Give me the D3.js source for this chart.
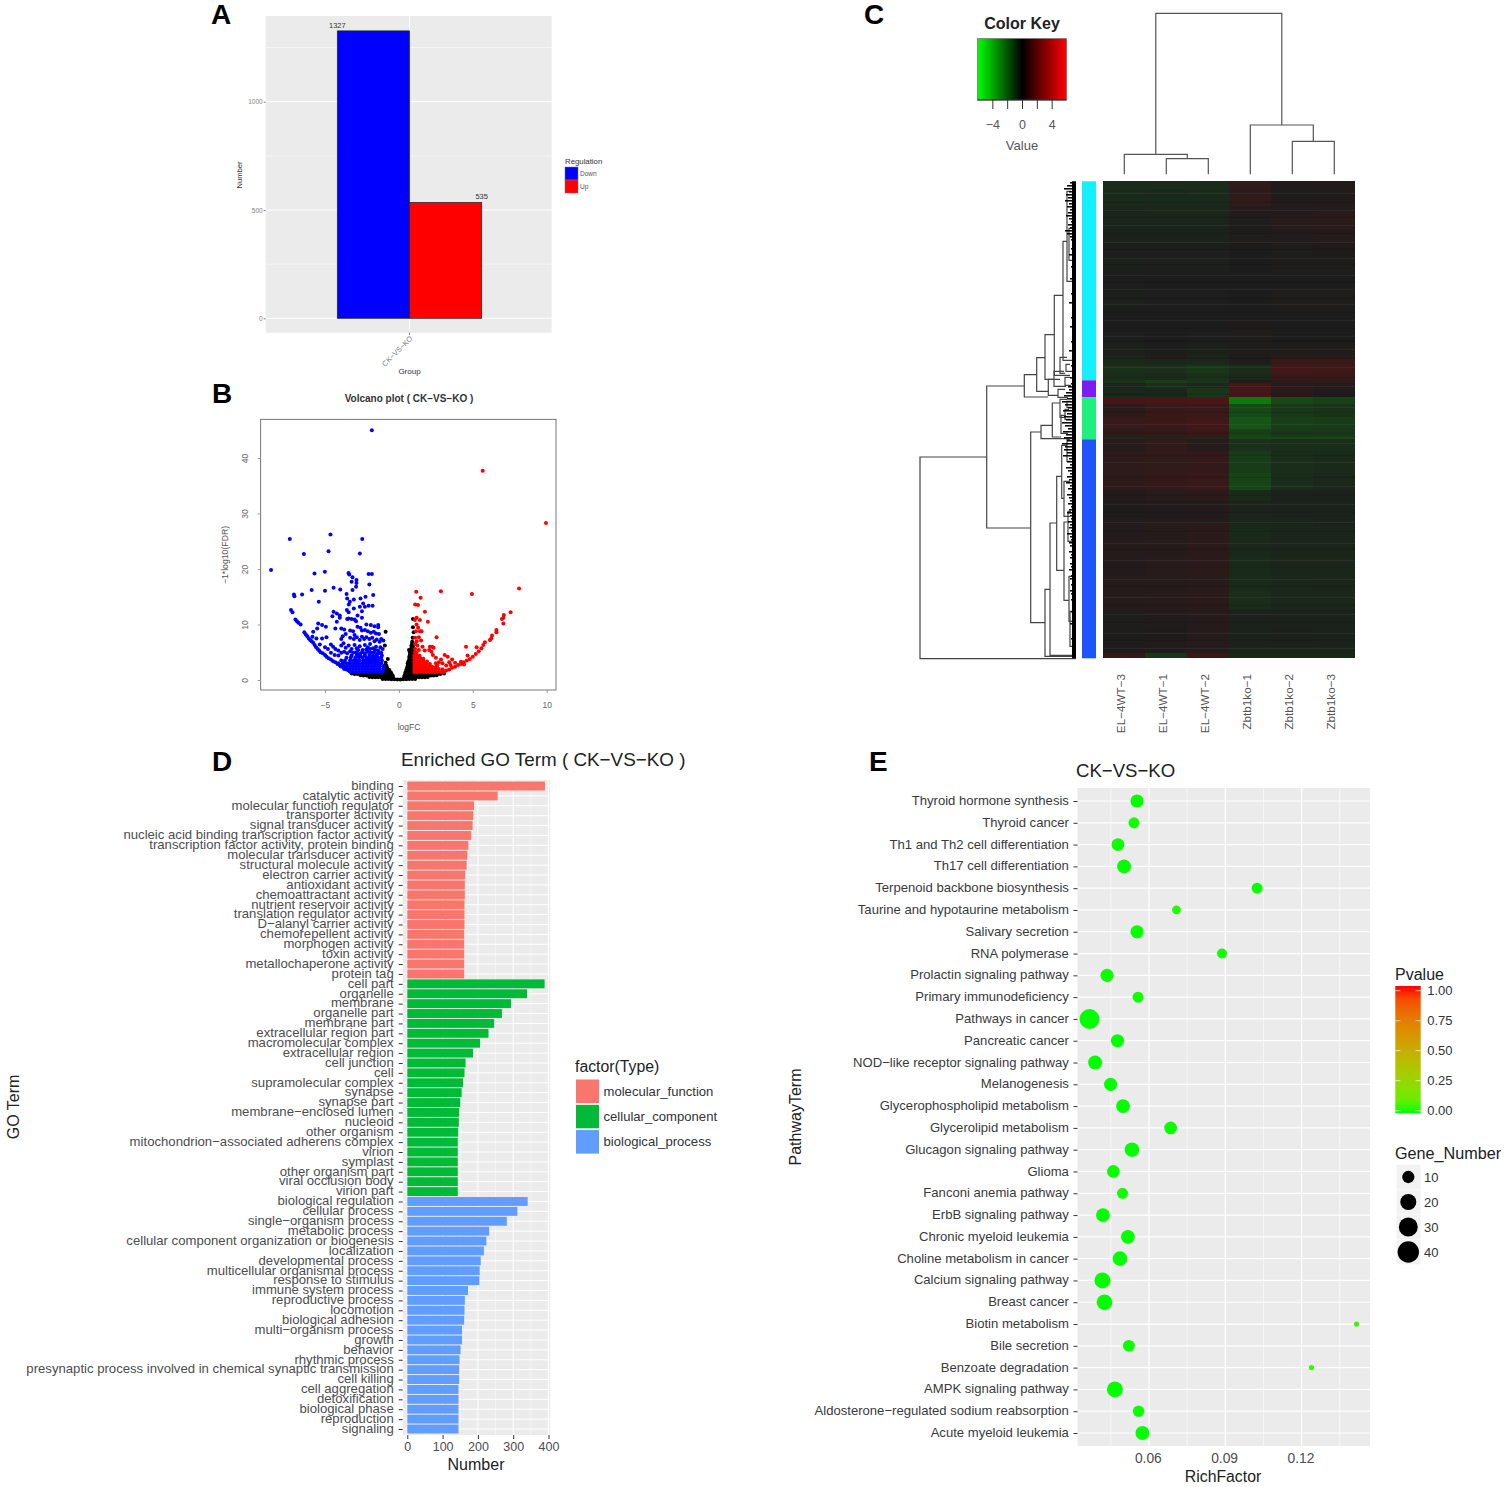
<!DOCTYPE html>
<html>
<head>
<meta charset="utf-8">
<title>CK-VS-KO figure</title>
<script src="https://cdn.jsdelivr.net/npm/d3@7"></script>
<style>
  body { margin: 0; background: #fff; }
  svg { display: block; font-family: "Liberation Sans", Arial, sans-serif; }
</style>
</head>
<body>
<script>
// panel A
const regGroups = ["Down", "Up"];
const regCounts = [1327, 535];

// panel B, [logFC, -log10(FDR)]
const blackPoints = [
  [-1.1,.2],[-.9,.2],[-.7,.2],[-.5,.15],[-.3,.15],[-.1,.1],[.1,.1],[.3,.15],[.5,.15],[.7,.2],[.9,.2],[1.1,.2],
  [-2,.55],[-1.8,.5],[-1.6,.5],[-1.4,.5],[-1.2,.5],[-1,.5],[-.8,.5],[-.6,.5],[-.4,.5],[.35,.5],[.55,.5],[.75,.5],[.95,.5],[1.15,.5],[1.35,.5],[1.55,.5],[1.75,.5],[1.95,.55],
  [-2.6,.85],[-2.4,.8],[-2.2,.8],[-2,.8],[-1.8,.8],[-1.6,.8],[-1.4,.8],[-1.2,.8],[-1,.8],[-.8,.8],[-.6,.8],[-.42,.8],[.38,.8],[.55,.8],[.75,.8],[.95,.8],[1.15,.8],[1.35,.8],[1.55,.8],[1.75,.8],[1.95,.8],[2.15,.8],[2.35,.8],[2.55,.85],
  [-3.2,1.15],[-3,1.1],[-2.8,1.1],[-2.6,1.1],[-2.4,1.1],[-2.2,1.1],[-2,1.1],[-1.8,1.1],[-1.6,1.1],[-1.4,1.1],[-1.2,1.1],[-1,1.1],[-.8,1.1],[-.6,1.1],[-.5,1.1],[.42,1.1],[.6,1.1],[.8,1.1],[1,1.1],[1.2,1.1],[1.4,1.1],[1.6,1.1],[1.8,1.1],[2,1.1],[2.2,1.1],[2.4,1.1],[2.6,1.1],[2.8,1.1],[3.05,1.15],
  [-1,1.4],[-.85,1.4],[-.7,1.4],[-.55,1.4],[-.98,1.8],[-.8,1.8],[-.65,1.8],[-.95,2.2],[-.8,2.2],[-.95,2.6],[-.85,2.6],[-.9,3.1],[-.75,3.8],
  [.45,1.4],[.6,1.4],[.8,1.4],[.98,1.4],[.5,1.8],[.7,1.8],[.85,1.8],[.98,1.8],[.55,2.2],[.7,2.2],[.85,2.2],[.98,2.2],[.6,2.6],[.75,2.6],[.9,2.6],[.98,2.6],[.6,3],[.75,3],[.9,3],[.98,3],
  [.65,3.4],[.8,3.4],[.95,3.4],[.7,3.8],[.85,3.8],[.95,3.8],[.7,4.2],[.85,4.2],[.95,4.2],[.75,4.6],[.9,4.6],[.75,5],[.92,5],[.68,5.4],[.8,5.4],[.95,5.4],[.85,5.8],[.95,5.8],[.85,6.2],[.95,6.2],[.9,6.6],
  [-.9,8.7],[-.95,6.2],[.95,11],[1,8.6],[.95,9.5],[.93,7.6],[.9,6.9]
];
const bluePoints = [
  // outliers
  [-1.83,45],[-8.65,19.8],[-7.38,25.4],[-4.63,26.2],[-2.48,25.4],[-6.43,22.7],[-4.76,23.2],[-2.64,22.8],[-5.71,19.2],[-5.01,19.5],
  [-3.41,19.3],[-3.36,19],[-3.14,18.5],[-2.87,18],[-3.2,17.7],[-2.87,17.5],[-2.9,16.8],[-2.05,19.1],[-1.83,19.1],[-2,17.2],
  [-5.9,16.2],[-5,16.1],[-4.42,16.6],[-3.97,16.3],[-7.1,15.4],[-7.07,15.1],[-6.55,15.4],[-3.54,15.5],[-3.14,16.2],[-1.74,15.3],
  [-2.26,15],[-2.6,14.7],[-5.42,14.1],[-3.5,14.7],[-3.32,14.1],[-3.05,14.5],[-3.39,13.6],[-2.42,13.8],[-2.3,13.2],[-2.05,13.4],[-1.78,13.4],
  [-7.3,12.6],[-7.2,12.2],[-4.42,12.3],[-4.2,12],[-3.52,12.6],[-3.4,12.2],[-3.05,12.9],[-2.64,13.2],[-2.5,12.4],
  // scatter
  [-5.46,10.2],[-5.2,9.9],[-4.94,9.6],[-5.8,8.7],[-5.53,9.3],[-5.85,7.8],[-5.58,7.5],[-5.2,7.5],[-4.9,7.7],[-5.35,6.4],
  [-4.5,11.5],[-4.2,10.5],[-4,11.2],[-4,11.6],[-3.5,11],[-3.4,11.1],[-3.2,11],[-3,10.9],[-2.9,10.6],[-2.8,11.6],[-2.5,11.2],[-2.2,10],[-1.9,9.9],[-1.65,9.7],[-1.4,9.9],[-1.4,9.5],
  [-4.3,9.3],[-3.9,9.3],[-3.7,9.1],[-3.6,8.3],[-3.8,7.9],[-3.9,7.4],[-3.3,8.9],[-3.1,8.8],[-3,8.1],[-2.8,9.6],[-2.6,9.4],[-2.5,8.9],[-2.3,9],[-2.1,8.8],[-1.9,8.5],[-1.7,8.7],[-1.55,8.4],[-1.35,8.3],[-1.2,7.4],[-1.05,7.1],
  [-3.3,7.6],[-3.05,7.4],[-2.85,7.7],[-2.65,7.2],[-2.5,7.8],[-2.35,7.4],[-2.2,7.7],[-2,7.4],[-1.8,7.6],[-1.65,7],[-1.5,7.3],[-1.3,6.9],
  [-4.6,6.4],[-4.45,6],[-4.3,5.6],[-4.1,5.3],[-3.9,6.2],[-3.75,6.6],[-3.6,5.8],[-3.4,6.2],[-3.2,5.6],[-3,6.3],[-2.85,5.7],[-2.65,6.1],[-2.45,5.4],[-2.3,6.3],[-2.1,5.9],[-1.95,6.5],[-1.75,5.7],[-1.55,6],[-1.4,5.3],[-1.25,5.9],[-1.1,5.6],[-1.2,4.9],
  [-4.8,5.6],[-5,5.9],[-4.6,4.9],[-4.35,4.5],[-4.1,4.4],[-3.9,4.9],[-3.7,5.1],[-3.5,4.8],[-3.3,5.2],[-3.1,4.9],[-2.9,5],[-2.7,4.7],[-2.5,5],[-2.3,4.8],[-2.1,5.1],[-1.9,4.9],[-1.7,5],[-1.5,4.7],
  [-2.75,5.4],[-2.2,5.5],[-1.95,5.6],[-1.6,5.4],[-1.35,4.8],[-1.15,4.4],[-3.2,4.4],[-2.85,4.45],[-2.6,4.4],[-2.3,4.4],[-2,4.5],[-1.75,4.45],[-1.5,4.35],
  // left rim of the volcano
  [-7,10.9],[-6.9,10.6],[-6.8,10.3],[-6.65,10],[-6.4,8.6],[-6.3,8.2],[-6.2,7.9],[-6.1,7.5],[-6,7.2],[-5.9,7],[-5.8,6.7],[-5.7,6.3],[-5.6,5.9],[-5.5,5.6],[-5.4,5.3],[-5.3,5],[-5.15,4.8],[-5,4.5],[-4.9,4.2],[-4.75,3.9],[-4.6,3.7],[-4.45,3.4],[-4.3,3.2],[-4.15,2.9],[-4,2.7],[-3.85,2.4],[-3.7,2.2],[-3.55,1.9],[-3.4,1.7],
  // dense core
  [-3.3,1.5],[-3.1,1.5],[-2.9,1.5],[-2.7,1.5],[-2.5,1.5],[-2.3,1.5],[-2.1,1.5],[-1.9,1.5],[-1.7,1.5],[-1.5,1.5],[-1.3,1.5],[-1.1,1.5],
  [-3.7,2],[-3.5,2],[-3.3,2],[-3.1,2],[-2.9,2],[-2.7,2],[-2.5,2],[-2.3,2],[-2.1,2],[-1.9,2],[-1.7,2],[-1.5,2],[-1.3,2],[-1.05,2],
  [-3.95,2.5],[-3.7,2.5],[-3.5,2.5],[-3.3,2.5],[-3.1,2.5],[-2.9,2.5],[-2.7,2.5],[-2.5,2.5],[-2.3,2.5],[-2.1,2.5],[-1.9,2.5],[-1.7,2.5],[-1.5,2.5],[-1.3,2.5],[-1.05,2.5],
  [-4.1,3],[-3.8,3],[-3.6,3],[-3.4,3],[-3.2,3],[-3,3],[-2.8,3],[-2.6,3],[-2.4,3],[-2.2,3],[-2,3],[-1.8,3],[-1.6,3],[-1.4,3],[-1.2,3],
  [-3.9,3.5],[-3.65,3.5],[-3.3,3.55],[-3.05,3.5],[-2.85,3.5],[-2.65,3.45],[-2.4,3.5],[-2.2,3.5],[-2,3.5],[-1.8,3.5],[-1.6,3.5],[-1.4,3.5],[-1.15,3.5],
  [-3.55,4],[-3.25,4.05],[-2.95,4],[-2.7,4.05],[-2.45,4],[-2.2,4],[-2,4],[-1.8,4],[-1.6,4],[-1.4,4],[-1.2,4.05]
];
const redPoints = [
  // outliers
  [5.67,37.7],[9.95,28.3],[8.13,16.5],[2.84,16],[4.94,15.5],[1.17,15.9],[1.47,14.8],[1.1,13.6],[1.29,13.5],[1.76,12.3],[7.56,12.2],[7.1,11.7],[7.07,11.2],[6.97,11],[1.96,10.5],[7.07,10.2],
  [1.2,11.2],[1.08,10.8],[1.42,10.8],[1.2,10],[1.3,9.4],[1.15,8.8],[1.42,8.8],[1.53,8.8],[2.55,7.7],[6.6,9],[6.6,8.6],[6.3,8],[6.25,7.5],[6.16,7.2],[5.82,6.8],[5.71,6.3],[5.58,5.7],[4.54,6],[5.26,5.9],[4.65,4.4],
  // scatter
  [1.1,7.6],[1.2,7],[1.35,7.7],[1.5,7.1],[1.1,6.5],[1.25,6.2],[1.6,6],[1.1,5.6],[1.35,5.4],[1.1,5],[1.2,4.9],[1.75,5.3],[2.1,6],[2.25,6],[2.35,5.8],[2.05,5.4],[2.2,5.1],[2.3,4.5],[2.5,4],[3.1,4.5],[3.3,4.2],[3.4,3.2],[3.6,3.7],[2.85,3.7],[2.95,3],[3.2,2.6],[3.5,2.7],[3.8,3.1],[4.2,3.3],[4.4,2.8],[2.7,3.2],[2.5,3],[2.6,2.6],
  // right rim
  [5.4,5.2],[5.2,4.7],[5,4.2],[4.8,3.8],[4.6,3.5],[4.4,3.2],[4.2,2.9],[4,2.7],[3.8,2.4],[3.6,2.2],[3.4,1.9],[3.2,1.7],
  // dense core
  [1.05,1.45],[1.25,1.45],[1.45,1.45],[1.65,1.45],[1.85,1.45],[2.05,1.45],[2.25,1.45],[2.45,1.45],[2.65,1.45],[2.85,1.45],[3.05,1.45],
  [1.05,1.9],[1.25,1.9],[1.45,1.9],[1.65,1.9],[1.85,1.9],[2.05,1.9],[2.25,1.9],[2.45,1.9],[2.7,2],[2.95,1.95],
  [1.05,2.4],[1.25,2.4],[1.45,2.4],[1.65,2.4],[1.85,2.4],[2.05,2.4],[2.25,2.4],[2.5,2.35],
  [1.05,2.9],[1.25,2.9],[1.45,2.9],[1.65,2.9],[1.85,2.9],[2.1,2.9],
  [1.05,3.4],[1.25,3.4],[1.45,3.4],[1.65,3.4],[1.9,3.35],
  [1.05,3.9],[1.25,3.9],[1.45,3.9],[1.65,3.85],
  [1.05,4.4],[1.2,4.4],[1.4,4.35]
];

// panel C, rows are measured in positions down the heat map
const colNames = ["EL−4WT−3", "EL−4WT−1", "EL−4WT−2", "Zbtb1ko−1", "Zbtb1ko−2", "Zbtb1ko−3"];
const sideEnds = [199, 216, 258, 477];
const sideColors = ["#14f0ff", "#7a1df0", "#1ff07a", "#1f55f8"];
const heatEnds = [8, 16, 25, 33, 47, 62, 75, 92, 110, 126, 140, 150, 163, 174, 178, 184, 192, 199, 202, 207, 216, 223, 236, 248, 256, 258, 270, 292, 309, 320, 337, 345, 358, 375, 395, 410, 428, 445, 462, 472, 477];
const heatValues = [
  [-.6,-.6,-.6,.7,.2,.2],[-.5,-.4,-.5,.6,.1,.2],[-.5,-.5,-.5,.7,.2,.2],[-.3,-.4,-.4,.3,.2,.3],[-.3,-.3,-.3,.1,.4,.5],
  [-.2,-.2,-.2,.1,.2,.3],[-.1,-.1,-.1,0,.1,.15],[-.15,-.1,-.1,.05,.1,.1],[-.05,0,0,0,.05,.05],[-.1,-.05,-.05,.05,.1,.1],
  [0,0,0,.05,0,0],[0,0,.05,.15,.05,.05],[-.05,0,-.05,.1,.05,.05],[-.1,-.05,-.1,.1,.1,.1],[-.4,.3,-.3,0,.5,.6],
  [-.5,-.4,-.4,-.1,.9,1],[-.7,-.7,-.9,-.6,1.3,1.2],[-.6,-.5,-.7,-.5,1,1],[-.8,-1.2,-.9,.2,.6,.7],[-.3,-.6,-.4,1.4,.4,.2],
  [-.4,-.3,-.9,1.5,.5,.2],[1.5,1.6,1.7,-3.2,-1.6,-1.3],[.5,.9,1,-1.6,-1,-.8],[.9,1.1,1.3,-2,-1.2,-1.1],[.6,.8,1.1,-1.3,-1,-1],
  [-.4,-.4,-.5,-1.6,-1.6,-1.5],[.4,.7,.3,-.7,-.6,-.6],[.6,.7,.8,-1.1,-.6,-.5],[.6,.8,.9,-1.4,-.6,-.4],[.2,.4,.5,-.5,-.2,-.2],
  [.15,.25,.25,-.25,-.2,-.2],[.2,.3,.3,-.3,-.3,-.2],[.25,.3,.5,-.5,-.3,-.3],[.3,.3,.5,-.4,-.3,-.3],[.25,.4,.5,-.5,-.35,-.35],
  [.3,.3,.4,-.5,-.4,-.35],[.35,.4,.5,-.55,-.4,-.4],[.1,.2,.35,-.2,-.2,-.2],[.1,.15,.3,-.2,-.15,-.2],[.15,.2,.3,-.2,-.2,-.2],[.8,-.9,1.1,-.4,-.4,-.4]
];
// faint light and dark rows that give the heat map its grain
const heatStreaks = [12, 21, 29, 36, 44, 52, 61, 68, 77, 83, 94, 101, 108, 117, 123, 131, 139, 147, 155, 160, 168, 177, 186, 196, 205, 213, 226, 231, 243, 252, 262, 274, 281, 296, 305, 314, 323, 331, 341, 350, 362, 368, 379, 386, 398, 405, 416, 424, 433, 441, 452, 459, 467];
const keyTicks = [-4, -2, 0, 2, 4];
const keyLabels = [-4, 0, 4];
// column dendrogram: left pos, right pos, left child height, right child height, height
const colMerges = [
  [1, 2, 0, 0, 15.6],
  [0, 1.5, 0, 15.6, 20],
  [4, 5, 0, 0, 33],
  [3, 4.5, 0, 33, 49.3],
  [.75, 3.75, 20, 49.3, 161]
];
// row dendrogram: height, top pos, bottom pos, top child height, bottom child height
const rowMerges = [
  [156, 275.7, 477.3, 89.3, 0],
  [89.3, 204.7, 346.7, 51.7, 45.3],
  [51.7, 193.3, 215.7, 39.3, 28],
  [39.3, 176.3, 210, 31, 27.7],
  [31, 153.3, 198, 21.7, 16],
  [21.7, 114, 194, 13, 6],
  [13, 60, 179, 9, 3],
  [9, 10, 100, 5, 4],
  [7, 47, 79, 4, 4],
  [27.7, 198, 214, 22, 18],
  [22, 190, 205, 12, 10],
  [18, 208, 216, 11, 8],
  [16, 176, 192, 9, 11],
  [11, 196, 204, 6, 5],
  [10, 183, 190, 6, 4],
  [45.3, 250.7, 441.3, 35, 31],
  [35, 244, 257.3, 23.7, 0],
  [23.7, 221.7, 255.7, 16, 15],
  [16, 218, 236, 9, 11],
  [15, 234, 252, 10, 8],
  [11, 228, 238, 7, 6],
  [9, 220, 226, 5, 5],
  [31, 408, 475, 26, 0],
  [26, 341.7, 474, 19.3, 0],
  [19.3, 295, 389, 14.3, 12],
  [14.3, 264, 317, 9, 12],
  [12, 340.7, 419, 8, 7],
  [8, 330, 360, 5, 4],
  [9, 258, 280, 6, 5],
  [12, 300, 335, 6, 6],
  [7, 395, 440, 4, 4],
  [6, 430, 465, 3, 3]
];
// depth of the short branches next to the leaves, one per three positions
const leafDepths = [
  6,9,12,7,10,8,11,7,9,6,8,10,7,5,8,6,11,9,6,5,
  4,3,5,3,7,4,3,4,5,3,3,4,6,3,4,3,3,5,4,3,7,3,4,3,3,5,3,4,6,3,3,4,3,5,3,3,7,4,3,3,4,5,3,4,4,6,3,5,
  8,7,10,12,9,14,11,8,13,9,12,10,14,11,8,13,10,12,9,14,11,12,9,13,
  7,9,6,10,8,6,9,7,10,6,8,5,9,7,6,8,5,7,9,6,5,8,6,7,5,9,6,5,7,6,4,7,5,6,4,6,5,7,4,5,6,4,5,4,6,5,3,5,4,4,3,5,4,3,4,6,3,4,3,4,5,3,4
];

// panel D
const mfTerms = ["binding", "catalytic activity", "molecular function regulator", "transporter activity", "signal transducer activity", "nucleic acid binding transcription factor activity", "transcription factor activity, protein binding", "molecular transducer activity", "structural molecule activity", "electron carrier activity", "antioxidant activity", "chemoattractant activity", "nutrient reservoir activity", "translation regulator activity", "D−alanyl carrier activity", "chemorepellent activity", "morphogen activity", "toxin activity", "metallochaperone activity", "protein tag"];
const mfCounts = [390, 256, 189, 187, 185, 181, 173, 170, 168, 164, 163, 163, 162, 162, 162, 161, 161, 161, 161, 161];
const ccTerms = ["cell part", "organelle", "membrane", "organelle part", "membrane part", "extracellular region part", "macromolecular complex", "extracellular region", "cell junction", "cell", "supramolecular complex", "synapse", "synapse part", "membrane−enclosed lumen", "nucleoid", "other organism", "mitochondrion−associated adherens complex", "virion", "symplast", "other organism part", "viral occlusion body", "virion part"];
const ccCounts = [389, 339, 294, 268, 246, 230, 206, 186, 165, 162, 158, 154, 150, 147, 146, 144, 143, 143, 143, 143, 143, 143];
const bpTerms = ["biological regulation", "cellular process", "single−organism process", "metabolic process", "cellular component organization or biogenesis", "localization", "developmental process", "multicellular organismal process", "response to stimulus", "immune system process", "reproductive process", "locomotion", "biological adhesion", "multi−organism process", "growth", "behavior", "rhythmic process", "presynaptic process involved in chemical synaptic transmission", "cell killing", "cell aggregation", "detoxification", "biological phase", "reproduction", "signaling"];
const bpCounts = [341, 312, 282, 232, 224, 217, 208, 205, 204, 172, 163, 162, 161, 155, 155, 151, 148, 147, 147, 145, 145, 145, 145, 145];
const goTypes = ["molecular_function", "cellular_component", "biological_process"];
const goColors = ["#F8766D", "#00BA38", "#619CFF"];
const goTicks = [0, 100, 200, 300, 400];

// panel E
const pathways = ["Thyroid hormone synthesis", "Thyroid cancer", "Th1 and Th2 cell differentiation", "Th17 cell differentiation", "Terpenoid backbone biosynthesis", "Taurine and hypotaurine metabolism", "Salivary secretion", "RNA polymerase", "Prolactin signaling pathway", "Primary immunodeficiency", "Pathways in cancer", "Pancreatic cancer", "NOD−like receptor signaling pathway", "Melanogenesis", "Glycerophospholipid metabolism", "Glycerolipid metabolism", "Glucagon signaling pathway", "Glioma", "Fanconi anemia pathway", "ErbB signaling pathway", "Chronic myeloid leukemia", "Choline metabolism in cancer", "Calcium signaling pathway", "Breast cancer", "Biotin metabolism", "Bile secretion", "Benzoate degradation", "AMPK signaling pathway", "Aldosterone−regulated sodium reabsorption", "Acute myeloid leukemia"];
const richFactor = [.0553, .0541, .0478, .0502, .1025, .0708, .0553, .0887, .0435, .0557, .0366, .0476, .0388, .0449, .0498, .0685, .0533, .0460, .0496, .0419, .0517, .0486, .0417, .0425, .1416, .0521, .1239, .0466, .0559, .0574];
const geneNumber = [14, 9, 13, 16, 9, 5, 14, 7, 14, 9, 37, 14, 16, 14, 16, 13, 18, 13, 9, 16, 16, 18, 22, 21, 1, 11, 1, 22, 10, 16];
const pvalues = [.001, .005, .003, .001, .002, .01, .002, .005, .003, .004, .001, .001, .001, .001, .001, .002, .001, .002, .004, .001, .001, .001, .001, .001, .03, .002, .03, .001, .002, .001];
const richTicks = [.06, .09, .12];
const richMinor = [.045, .075, .105, .135];
const pTicks = [0, .25, .5, .75, 1];
const sizeLegend = [10, 20, 30, 40];

const GRID = "#ebebeb";
const AXIS_TEXT = "#4d4d4d";

const svg = d3.select("body").append("svg").attr("width", 1506).attr("height", 1487);
const defs = svg.append("defs");

function label(text, x, y, size, opts) {
  const o = Object.assign({ fill: "#111", anchor: "start", weight: "normal", rotate: 0 }, opts);
  return svg.append("text")
    .attr("transform", `translate(${x},${y}) rotate(${o.rotate})`)
    .attr("text-anchor", o.anchor)
    .attr("font-size", size)
    .attr("font-weight", o.weight)
    .attr("fill", o.fill)
    .text(text);
}

function gridlines(group, values, x1, x2, y1, y2, width) {
  group.selectAll(null).data(values).enter().append("line")
    .attr("x1", x1).attr("x2", x2).attr("y1", y1).attr("y2", y2)
    .attr("stroke", "#fff").attr("stroke-width", width);
}

function styleAxis(g, size, fill, tickColor) {
  g.select(".domain").remove();
  g.selectAll("text").attr("font-size", size).attr("fill", fill).attr("font-family", null);
  g.selectAll("line").attr("stroke", tickColor);
}

["A", "B", "C", "D", "E"].forEach((letter, i) => {
  const x = [211, 212, 864, 212, 869][i];
  const y = [24, 403, 24, 771, 771][i];
  label(letter, x, y, 28, { weight: "bold", fill: "#000" });
});

// ---- A: bar chart
function drawA() {
  const x = d3.scaleBand().domain(regGroups).range([337.3, 481.7]);
  const y = d3.scaleLinear().domain([0, 1000]).range([318.3, 101.7]);
  const g = svg.append("g");
  g.append("rect").attr("x", 265.7).attr("y", 16).attr("width", 286).attr("height", 316.7).attr("fill", GRID);
  const grid = g.append("g");
  gridlines(grid, [250, 750, 1250], 265.7, 551.7, d => y(d), d => y(d), 0.5);
  gridlines(grid, [0, 500, 1000], 265.7, 551.7, d => y(d), d => y(d), 1);
  gridlines(grid, [0], 409.5, 409.5, 16, 332.7, 1);

  g.selectAll(".bar").data(regGroups).enter().append("rect")
    .attr("x", d => x(d))
    .attr("y", (d, i) => y(regCounts[i]))
    .attr("width", x.bandwidth())
    .attr("height", (d, i) => y(0) - y(regCounts[i]))
    .attr("fill", d => d === "Down" ? "#0000ff" : "#ff0000")
    .attr("stroke", "#222").attr("stroke-width", 0.7);

  regGroups.forEach((d, i) => {
    label(regCounts[i], x(d) + (i ? x.bandwidth() : 0), y(regCounts[i]) - 3, 7.5, { anchor: "middle", fill: "#333" });
  });

  const yAxis = g.append("g").attr("transform", "translate(265.7,0)")
    .call(d3.axisLeft(y).tickValues([0, 500, 1000]).tickFormat(d3.format("d")).tickSize(2).tickPadding(1));
  styleAxis(yAxis, 6.5, "#7f7f7f", "#7f7f7f");

  g.append("line").attr("x1", 409.5).attr("x2", 409.5).attr("y1", 332.7).attr("y2", 335).attr("stroke", "#7f7f7f");
  label("CK−VS−KO", 413, 339, 7.4, { anchor: "end", rotate: -45, fill: "#7f7f7f" });
  label("Group", 409.5, 374, 8, { anchor: "middle", fill: "#333" });
  label("Number", 242, 175, 7.6, { anchor: "middle", rotate: -90, fill: "#333" });

  label("Regulation", 565, 164, 7.8, { fill: "#333" });
  regGroups.forEach((d, i) => {
    svg.append("rect").attr("x", 565).attr("y", 167 + i * 13).attr("width", 13).attr("height", 13)
      .attr("fill", d === "Down" ? "#0000ff" : "#ff0000").attr("stroke", "#777").attr("stroke-width", 0.5);
    label(d, 580, 175.5 + i * 13, 6.5, { fill: "#555" });
  });
}

// ---- B: volcano
function drawB() {
  const x = d3.scaleLinear().domain([-5, 10]).range([325, 546.7]);
  const y = d3.scaleLinear().domain([0, 40]).range([680, 458]);
  const g = svg.append("g");
  label("Volcano plot ( CK−VS−KO )", 409, 401.5, 10, { anchor: "middle", weight: "bold", fill: "#333" });
  label("−1*log10(FDR)", 228, 555, 8.7, { anchor: "middle", rotate: -90, fill: "#555" });
  label("logFC", 409, 730, 8.5, { anchor: "middle", fill: "#555" });

  const series = [[blackPoints, "#000"], [bluePoints, "#0000ff"], [redPoints, "#ff0000"]];
  series.forEach(s => {
    g.append("g").selectAll("circle").data(s[0]).enter().append("circle")
      .attr("cx", d => x(d[0])).attr("cy", d => y(d[1])).attr("r", 2).attr("fill", s[1]);
  });

  g.append("rect").attr("x", 260.7).attr("y", 419.3).attr("width", 295.3).attr("height", 270.7)
    .attr("fill", "none").attr("stroke", "#555").attr("stroke-width", 0.8);

  const xAxis = g.append("g").attr("transform", "translate(0,690)")
    .call(d3.axisBottom(x).tickValues([-5, 0, 5, 10]).tickFormat(d3.format("d")).tickSize(3).tickPadding(9));
  styleAxis(xAxis, 8.5, "#666", "#999");
  const yAxis = g.append("g").attr("transform", "translate(260.7,0)")
    .call(d3.axisLeft(y).tickValues([0, 10, 20, 30, 40]).tickFormat(d3.format("d")).tickSize(3));
  styleAxis(yAxis, 8.5, "#666", "#999");
  yAxis.selectAll("text").attr("transform", "rotate(-90)").attr("x", 0).attr("dy", 0).attr("y", -13).attr("text-anchor", "middle");
}

// ---- C: heat map
function drawC() {
  const col = d3.scaleLinear().domain([-.5, 5.5]).range([1103.3, 1355.3]);
  const row = d3.scaleLinear().domain([0, 477]).range([181.3, 658.3]);
  const colH = d3.scaleLinear().domain([0, 161]).range([174.3, 13.3]);
  const rowH = d3.scaleLinear().domain([0, 156]).range([1076, 920]);
  const heat = d3.scaleLinear().domain([-8, 0, 8]).range(["#00ff00", "#1c1c1c", "#ff0000"]);
  const key = d3.scaleLinear().domain([-6, 0, 6]).range(["#00ff00", "#000000", "#ff0000"]);
  const keyX = d3.scaleLinear().domain([-6, 6]).range([977.5, 1066.5]);

  // colour key
  label("Color Key", 1022, 29, 16, { anchor: "middle", weight: "bold", fill: "#222" });
  const grad = defs.append("linearGradient").attr("id", "keyGrad");
  [-6, 0, 6].forEach(v => grad.append("stop").attr("offset", (v + 6) / 12).attr("stop-color", key(v)));
  svg.append("rect").attr("x", 977.5).attr("y", 38.7).attr("width", 89).attr("height", 61.3)
    .attr("fill", "url(#keyGrad)").attr("stroke", "#555").attr("stroke-width", 0.6);
  const keyAxis = svg.append("g").attr("transform", "translate(0,100)")
    .call(d3.axisBottom(keyX).tickValues(keyTicks).tickSize(9).tickPadding(11)
      .tickFormat(d => keyLabels.includes(d) ? (d < 0 ? "−" + -d : d) : ""));
  styleAxis(keyAxis, 12.5, "#555", "#333");
  svg.append("line").attr("x1", 977.5).attr("x2", 1066.5).attr("y1", 100).attr("y2", 100).attr("stroke", "#222");
  label("Value", 1022, 150, 13, { anchor: "middle", fill: "#555" });

  // column tree
  const colTree = svg.append("g").attr("fill", "none").attr("stroke", "#555").attr("stroke-width", 1.2);
  colTree.selectAll("path").data(colMerges).enter().append("path")
    .attr("d", d => `M${col(d[0])},${colH(d[2])}V${colH(d[4])}H${col(d[1])}V${colH(d[3])}`);

  // row tree
  const rowTree = svg.append("g").attr("fill", "none").attr("stroke", "#444").attr("stroke-width", 1.2);
  rowTree.selectAll("path").data(rowMerges).enter().append("path")
    .attr("d", d => `M${rowH(d[3])},${row(d[1])}H${rowH(d[0])}V${row(d[2])}H${rowH(d[4])}`);
  const leaves = svg.append("g").attr("stroke", "#000").attr("stroke-width", 1.5);
  leaves.selectAll("line").data(leafDepths).enter().append("line")
    .attr("x1", d => rowH(d)).attr("x2", rowH(0))
    .attr("y1", (d, i) => row(i * 3 + 1.5)).attr("y2", (d, i) => row(i * 3 + 1.5));
  svg.append("line").attr("x1", rowH(2)).attr("x2", rowH(2)).attr("y1", row(0)).attr("y2", row(477))
    .attr("stroke", "#000").attr("stroke-width", 4);

  // side colours
  svg.append("g").selectAll("rect").data(sideEnds).enter().append("rect")
    .attr("x", 1082).attr("width", 14)
    .attr("y", (d, i) => row(i ? sideEnds[i - 1] : 0))
    .attr("height", (d, i) => row(d) - row(i ? sideEnds[i - 1] : 0))
    .attr("fill", (d, i) => sideColors[i]);

  // heat cells
  const cells = svg.append("g").attr("shape-rendering", "crispEdges");
  heatValues.forEach((values, r) => {
    const top = row(r ? heatEnds[r - 1] : 0);
    cells.selectAll(null).data(values).enter().append("rect")
      .attr("x", (d, i) => col(i - .5)).attr("y", top)
      .attr("width", col(1) - col(0))
      .attr("height", row(heatEnds[r]) - top)
      .attr("fill", d => heat(d));
  });
  svg.append("g").selectAll("line").data(heatStreaks).enter().append("line")
    .attr("x1", col(-.5)).attr("x2", col(5.5))
    .attr("y1", d => row(d)).attr("y2", d => row(d))
    .attr("stroke", (d, i) => i % 2 ? "#000" : "#888")
    .attr("stroke-opacity", .14).attr("stroke-width", 1);

  colNames.forEach((name, i) => {
    label(name, col(i) + 1, 674, 11.7, { anchor: "end", rotate: -90, fill: "#555" });
  });
}

// ---- D: GO terms
function drawD() {
  const terms = mfTerms.concat(ccTerms, bpTerms);
  const counts = mfCounts.concat(ccCounts, bpCounts);
  const types = mfTerms.map(() => 0).concat(ccTerms.map(() => 1), bpTerms.map(() => 2));
  const x = d3.scaleLinear().domain([0, 400]).range([407.3, 548.5]);
  const y = d3.scalePoint().domain(terms).range([786, 1429]);
  const g = svg.append("g");
  g.append("rect").attr("x", 402.7).attr("y", 780).attr("width", 147.6).attr("height", 655).attr("fill", GRID);
  const grid = g.append("g");
  gridlines(grid, [50, 150, 250, 350], d => x(d), d => x(d), 780, 1435, 0.5);
  gridlines(grid, goTicks, d => x(d), d => x(d), 780, 1435, 1);
  gridlines(grid, terms, 402.7, 550.3, d => y(d), d => y(d), 1);

  g.selectAll(".bar").data(terms).enter().append("rect")
    .attr("x", x(0))
    .attr("y", d => y(d) - y.step() * .45)
    .attr("height", y.step() * .9)
    .attr("width", (d, i) => x(counts[i]) - x(0))
    .attr("fill", (d, i) => goColors[types[i]]);

  const yAxis = g.append("g").attr("transform", "translate(402.7,0)")
    .call(d3.axisLeft(y).tickSize(4).tickPadding(5));
  styleAxis(yAxis, 13.15, AXIS_TEXT, "#333");
  yAxis.selectAll("text").attr("dy", ".25em");
  const xAxis = g.append("g").attr("transform", "translate(0,1435)")
    .call(d3.axisBottom(x).tickValues(goTicks).tickSize(4).tickPadding(3));
  styleAxis(xAxis, 12.5, AXIS_TEXT, "#333");

  label("Enriched GO Term ( CK−VS−KO )", 401, 766, 18.85, { fill: "#222" });
  label("Number", 476, 1470, 16, { anchor: "middle", fill: "#222" });
  label("GO Term", 19, 1107, 16, { anchor: "middle", rotate: -90, fill: "#222" });

  label("factor(Type)", 575, 1072, 15.8, { fill: "#222" });
  goTypes.forEach((t, i) => {
    svg.append("rect").attr("x", 576).attr("y", 1079.5 + i * 25.3).attr("width", 23).attr("height", 23.5)
      .attr("fill", goColors[i]);
    label(t, 603.5, 1095.5 + i * 25.3, 13.1, { fill: "#333" });
  });
}

// ---- E: pathway bubbles
function drawE() {
  const x = d3.scaleLinear().domain([.06, .12]).range([1149, 1301.6]);
  const y = d3.scalePoint().domain(pathways).range([801, 1433]);
  const r = d3.scaleSqrt().domain([1, 40]).range([2.6, 10.3]);
  const color = d3.scaleLinear().domain([0, 1]).range(["#00ff00", "#ff0000"]).interpolate(d3.interpolateLab);
  const g = svg.append("g");
  g.append("rect").attr("x", 1077.5).attr("y", 788).attr("width", 292.5).attr("height", 658).attr("fill", GRID);
  const grid = g.append("g");
  gridlines(grid, richMinor, d => x(d), d => x(d), 788, 1446, 0.6);
  gridlines(grid, richTicks, d => x(d), d => x(d), 788, 1446, 1.2);
  gridlines(grid, pathways, 1077.5, 1370, d => y(d), d => y(d), 1.2);

  g.selectAll(".dot").data(pathways).enter().append("circle")
    .attr("cx", (d, i) => x(richFactor[i]))
    .attr("cy", d => y(d))
    .attr("r", (d, i) => r(geneNumber[i]))
    .attr("fill", (d, i) => color(pvalues[i]));

  const yAxis = g.append("g").attr("transform", "translate(1077.5,0)")
    .call(d3.axisLeft(y).tickSize(4).tickPadding(4.6));
  styleAxis(yAxis, 13.1, "#3a3a3a", "#333");
  yAxis.selectAll("text").attr("dy", ".27em");
  const xAxis = g.append("g").attr("transform", "translate(-1.2,1446)")
    .call(d3.axisBottom(x).tickValues(richTicks).tickSize(0).tickPadding(7).tickFormat(d3.format(".2f")));
  styleAxis(xAxis, 13.8, AXIS_TEXT, "#333");

  label("CK−VS−KO", 1076, 777, 18.6, { fill: "#222" });
  label("RichFactor", 1223, 1482, 15.8, { anchor: "middle", fill: "#222" });
  label("PathwayTerm", 801, 1117, 16, { anchor: "middle", rotate: -90, fill: "#222" });

  // legends
  label("Pvalue", 1395, 980, 16, { fill: "#222" });
  const p = d3.scaleLinear().domain([0, 1]).range([1110.7, 990.7]);
  const grad = defs.append("linearGradient").attr("id", "pGrad").attr("x1", 0).attr("x2", 0).attr("y1", 1).attr("y2", 0);
  d3.range(0, 1.01, .1).forEach(v => grad.append("stop").attr("offset", v).attr("stop-color", color(v)));
  svg.append("rect").attr("x", 1395.3).attr("y", 986).attr("width", 25.4).attr("height", 127.3).attr("fill", "url(#pGrad)");
  const pAxis = svg.append("g").attr("transform", "translate(1420.7,0)")
    .call(d3.axisRight(p).tickValues(pTicks).tickFormat(d3.format(".2f")).tickSize(0).tickPadding(6.5));
  styleAxis(pAxis, 13, "#333", "#fff");
  pTicks.forEach(v => {
    svg.append("line").attr("x1", 1395.3).attr("x2", 1400.4).attr("y1", p(v)).attr("y2", p(v)).attr("stroke", "#fff").attr("stroke-opacity", .7);
    svg.append("line").attr("x1", 1415.6).attr("x2", 1420.7).attr("y1", p(v)).attr("y2", p(v)).attr("stroke", "#fff").attr("stroke-opacity", .7);
  });

  label("Gene_Number", 1395, 1158.5, 16.2, { fill: "#222" });
  sizeLegend.forEach((n, i) => {
    const cy = 1177 + i * 25;
    svg.append("rect").attr("x", 1396.5).attr("y", cy - 12.3).attr("width", 24).attr("height", 24.6).attr("fill", "#f2f2f2");
    svg.append("circle").attr("cx", 1408.3).attr("cy", cy).attr("r", r(n) + .4).attr("fill", "#000");
    label(n, 1424, cy + 4.5, 13, { fill: "#333" });
  });
}

drawA();
drawB();
drawC();
drawD();
drawE();
</script>
</body>
</html>
